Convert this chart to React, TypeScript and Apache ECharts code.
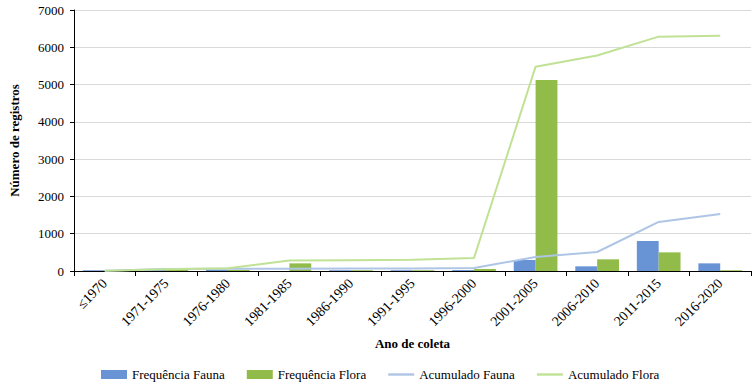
import React, { useEffect, useRef } from "react";
import * as echarts from "echarts";

const categories = ["≤1970", "1971-1975", "1976-1980", "1981-1985", "1986-1990", "1991-1995", "1996-2000", "2001-2005", "2006-2010", "2011-2015", "2016-2020"];
const freqFauna = [20, 25, 30, 0, 20, 20, 25, 295, 125, 805, 205];
const freqFlora = [5, 40, 30, 205, 20, 20, 55, 5120, 313, 500, 20];
const cumFauna = [10, 55, 60, 60, 65, 65, 80, 375, 510, 1315, 1530];
const cumFlora = [10, 50, 75, 280, 290, 300, 350, 5480, 5780, 6285, 6310];
const yTicks = { min: 0, max: 7000, interval: 1000 };

const serif = "Liberation Serif";
const lineIcon = "path://M0,0 L26,0 L26,2.4 L0,2.4 Z";

export default function App() {
  const ref = useRef<HTMLDivElement>(null);
  useEffect(() => {
    if (!ref.current) return;
    const chart = echarts.init(ref.current, null, { renderer: "svg" });
    chart.setOption({
      animation: false,
      textStyle: { fontFamily: serif },
      grid: { left: 71, right: 4, top: 10, bottom: 119 },
      legend: {
        bottom: 4,
        left: 96,
        itemGap: 22,
        itemWidth: 26,
        itemHeight: 9,
        textStyle: { fontFamily: serif, fontSize: 13, color: "#000" },
        data: [
          { name: "Frequência Fauna", icon: "rect" },
          { name: "Frequência Flora", icon: "rect" },
          { name: "Acumulado Fauna", icon: lineIcon },
          { name: "Acumulado Flora", icon: lineIcon },
        ],
      },
      xAxis: {
        type: "category",
        data: categories,
        name: "Ano de coleta",
        nameLocation: "middle",
        nameGap: 66,
        nameTextStyle: { fontFamily: serif, fontSize: 13, fontWeight: "bold", color: "#000" },
        axisLine: { lineStyle: { color: "#000" } },
        axisTick: { show: true, alignWithLabel: false, length: 5, lineStyle: { color: "#000" } },
        axisLabel: { rotate: 45, fontFamily: serif, fontSize: 14, color: "#000", interval: 0, margin: 10 },
      },
      yAxis: {
        type: "value",
        min: yTicks.min,
        max: yTicks.max,
        interval: yTicks.interval,
        name: "Número de registros",
        nameLocation: "middle",
        nameGap: 53,
        nameTextStyle: { fontFamily: serif, fontSize: 13, fontWeight: "bold", color: "#000" },
        axisLine: { show: true, lineStyle: { color: "#000" } },
        axisTick: { show: true, length: 4, lineStyle: { color: "#000" } },
        axisLabel: { fontFamily: serif, fontSize: 13, color: "#000", margin: 10, formatter: (v: number) => String(v) },
        splitLine: { lineStyle: { color: "#D9D9D9" } },
      },
      series: [
        {
          name: "Frequência Fauna",
          type: "bar",
          data: freqFauna,
          itemStyle: { color: "#6894D6" },
          barGap: "0%",
          barCategoryGap: "29%",
        },
        {
          name: "Frequência Flora",
          type: "bar",
          data: freqFlora,
          itemStyle: { color: "#92BC4A" },
          barGap: "0%",
          barCategoryGap: "29%",
        },
        {
          name: "Acumulado Fauna",
          type: "line",
          data: cumFauna,
          symbol: "none",
          lineStyle: { color: "#AFC5E5", width: 2 },
          itemStyle: { color: "#AFC5E5" },
        },
        {
          name: "Acumulado Flora",
          type: "line",
          data: cumFlora,
          symbol: "none",
          lineStyle: { color: "#C0E294", width: 2 },
          itemStyle: { color: "#C0E294" },
        },
      ],
    });
    return () => chart.dispose();
  }, []);
  return <div ref={ref} style={{ width: 755, height: 390, position: "absolute", left: 0, top: 0 }} />;
}
